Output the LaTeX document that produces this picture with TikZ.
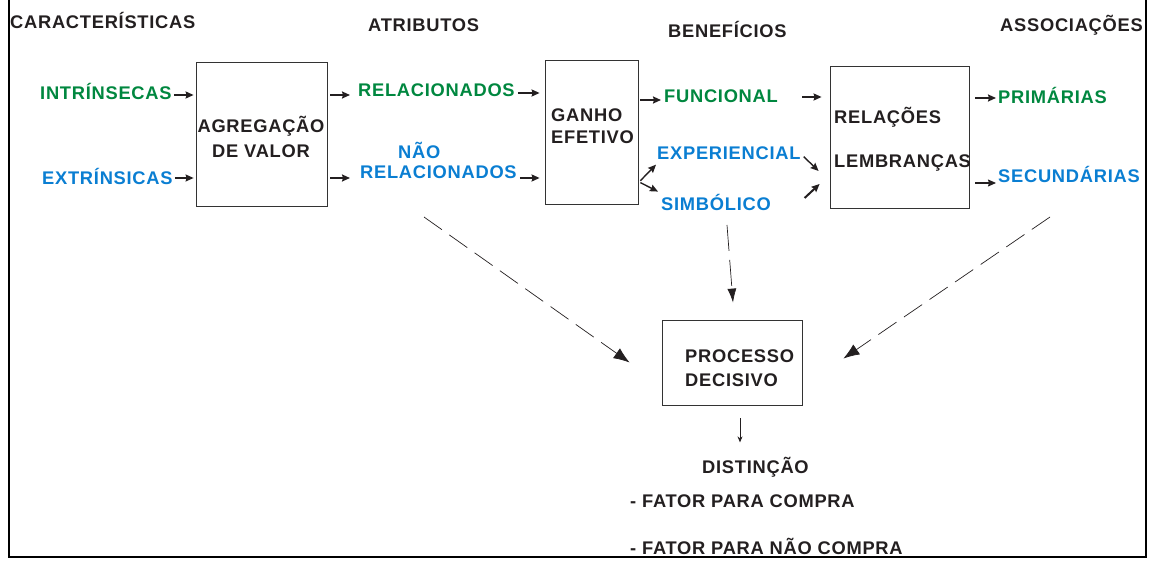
\documentclass[tikz,border=0pt]{standalone}
\usepackage{fontspec}
\setmainfont{Liberation Sans}[LetterSpace=4]
\usetikzlibrary{arrows.meta}
\definecolor{AttrGreen}{HTML}{00873F}
\definecolor{AttrBlue}{HTML}{0A7ED2}
\definecolor{TextDark}{HTML}{231F20}
\newcommand{\figw}{1149}
\newcommand{\figh}{561}
\newcommand{\txtsize}{\fontsize{18.3}{22}\selectfont\bfseries}

\begin{document}
\begin{tikzpicture}[x=1pt,y=-1pt,font=\txtsize,
    every node/.style={inner sep=0pt,text=TextDark},
    lbl/.style={anchor=west},
    grn/.style={lbl,text=AttrGreen},
    blu/.style={lbl,text=AttrBlue},
    caixa/.style={draw=black!80,line width=0.8pt},
    seta/.style={-{Stealth[length=8pt,width=7pt,inset=1pt]},line width=1.8pt,draw=TextDark},
    tracejada/.style={-{Latex[length=16pt,width=12pt]},dash pattern=on 22pt off 9pt,
      line width=0.7pt,draw=TextDark}]
    \useasboundingbox (0,0) rectangle (\figw,\figh);
    % frame (open at the top)
    \draw[line width=2.5pt] (9,0) -- (9,557) -- (1146,557) -- (1146,0);

    % column titles
    \node[lbl] (carac) at (10,20) {CARACTERÍSTICAS};
    \node[lbl] (atrib) at (368,25) {ATRIBUTOS};
    \node[lbl] (benef) at (668,29) {BENEFÍCIOS};
    \node[lbl] (assoc) at (1000,25) {ASSOCIAÇÕES};

    % boxes
    \node[caixa,minimum width=131pt,minimum height=144pt] (agreg) at (261.5,134) {};
    \node[caixa,minimum width=93pt,minimum height=144pt] (ganho) at (591.5,132) {};
    \node[caixa,minimum width=139pt,minimum height=142pt] (relac) at (899.5,137) {};
    \node[caixa,minimum width=140pt,minimum height=85pt] (proc) at (732,362.5) {};

    \node[align=center] (agregtxt) at (261,137) {AGREGAÇÃO\\[3pt]DE VALOR};
    \node[lbl,align=left] (ganhotxt) at (551,126) {GANHO\\EFETIVO};
    \node[lbl,align=left] (relactxt) at (834,139) {RELAÇÕES\\[22pt]LEMBRANÇAS};
    \node[lbl,align=left] (proctxt) at (685,368) {PROCESSO\\[2pt]DECISIVO};

    % characteristics
    \node[grn] (intr) at (40,91) {INTRÍNSECAS};
    \node[blu] (extr) at (42,176) {EXTRÍNSICAS};
    % attributes
    \node[grn] (relg) at (358,90) {RELACIONADOS};
    \node[blu] (nao) at (398,150) {NÃO};
    \node[blu] (nrel) at (360,172) {RELACIONADOS};
    % benefits
    \node[grn] (func) at (664,96) {FUNCIONAL};
    \node[blu] (expr) at (657,153) {EXPERIENCIAL};
    \node[blu] (simb) at (661,202) {SIMBÓLICO};
    % associations
    \node[grn] (prim) at (998,95) {PRIMÁRIAS};
    \node[blu] (secu) at (998,174) {SECUNDÁRIAS};

    % result
    \node[lbl] (dist) at (702,467) {DISTINÇÃO};
    \node[lbl] (fat1) at (630,501) {- FATOR PARA COMPRA};
    \node[lbl] (fat2) at (630,546) {- FATOR PARA NÃO COMPRA};

    % short arrows
    \draw[seta] ([xshift=2pt,yshift=-4pt]intr.east) -- ([xshift=-2pt,yshift=-4pt]intr.east -| agreg.west);
    \draw[seta,line width=1.2pt] ([xshift=2pt,yshift=-2pt]extr.east) -- ([xshift=-2pt,yshift=-2pt]extr.east -| agreg.west);
    \draw[seta] ([xshift=3pt,yshift=-5pt]agreg.east |- relg.west) -- ([xshift=-8pt,yshift=-5pt]relg.west);
    \draw[seta] ([xshift=3pt,yshift=-6pt]agreg.east |- nrel.west) -- ([xshift=-10pt,yshift=-6pt]nrel.west);
    \draw[seta] ([xshift=3pt,yshift=-3pt]relg.east) -- ([xshift=-5pt,yshift=-3pt]relg.east -| ganho.west);
    \draw[seta] ([xshift=3pt,yshift=-6pt]nrel.east) -- ([xshift=-5pt,yshift=-6pt]nrel.east -| ganho.west);
    \draw[seta] ([xshift=2pt,yshift=-4pt]ganho.east |- func.west) -- ([xshift=-3pt,yshift=-4pt]func.west);
    \draw[seta,line width=1.4pt] ([xshift=2pt]ganho.east |- expr.south) ++(0,21) -- ([xshift=-1pt,yshift=-5pt]expr.south west);
    \draw[seta,line width=1.4pt] ([xshift=2pt]ganho.east |- simb.north) ++(0,-11) -- ([xshift=-3pt,yshift=2pt]simb.north west);
    \draw[seta] ([xshift=24pt,yshift=-1pt]func.east) -- ([xshift=-8pt,yshift=-1pt]func.east -| relac.west);
    \draw[seta,line width=1.4pt] ([xshift=3pt,yshift=3pt]expr.south east) -- ([xshift=-11pt]relac.west |- 0,171);
    \draw[seta,line width=2pt] ([xshift=-25pt]relac.west |- 0,198) -- ([xshift=-10pt]relac.west |- 0,184);
    \draw[seta] ([xshift=6pt,yshift=-3pt]relac.east |- prim.west) -- ([xshift=-2pt,yshift=-3pt]prim.west);
    \draw[seta,line width=1.2pt] ([xshift=6pt,yshift=-9pt]relac.east |- secu.west) -- ([xshift=-2pt,yshift=-9pt]secu.west);

    % dashed arrows into the decision
    \coordinate (atribfim) at (424,217);
    \coordinate (assocfim) at (1050,217);
    \coordinate (benefim) at (727,225);
    \draw[tracejada] (atribfim) -- ([xshift=-32pt]proc.west);
    \draw[tracejada] (assocfim) -- ([xshift=41pt,yshift=4pt]proc.east);
    \draw[tracejada,-{Latex[length=14pt,width=9pt]},dash pattern=on 26pt off 9pt] (benefim) -- ([xshift=1pt,yshift=17pt]proc.north);
    \draw[seta,line width=1pt,-{Stealth[length=6pt,width=5pt]}] ([xshift=8pt,yshift=-13pt]proc.south) -- ([xshift=8pt,yshift=-37pt]proc.south);
\end{tikzpicture}
\end{document}
